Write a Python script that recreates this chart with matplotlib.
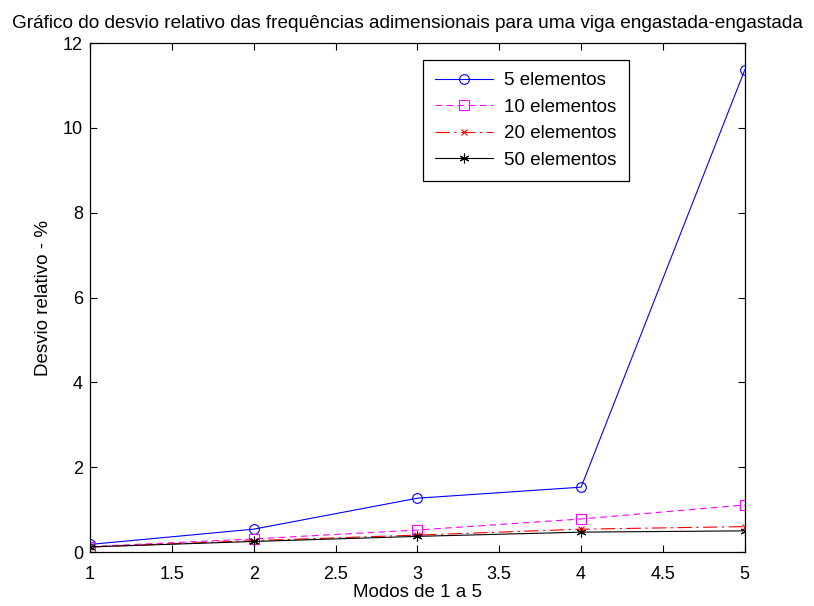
import matplotlib
matplotlib.use('Agg')
import matplotlib.pyplot as plt

plt.rcParams['font.family'] = ['Liberation Sans', 'DejaVu Sans']

modos = [1, 2, 3, 4, 5]
desvio_5 = [0.18, 0.54, 1.27, 1.53, 11.37]
desvio_10 = [0.13, 0.31, 0.52, 0.78, 1.11]
desvio_20 = [0.12, 0.27, 0.40, 0.54, 0.60]
desvio_50 = [0.12, 0.25, 0.37, 0.47, 0.50]

fig = plt.figure(figsize=(8.14, 6.06), dpi=100)
ax = fig.add_axes([0.1106, 0.089, 0.8044, 0.840])

lw = 0.8
ax.plot(modos, desvio_5, '-o', color='blue', lw=lw, ms=7, mfc='none', mew=lw, label='5 elementos')
ax.plot(modos, desvio_10, marker='s', ls=(0, (6, 4)), color='magenta', lw=lw, ms=7.5, mfc='none', mew=lw,
        label='10 elementos')
ax.plot(modos, desvio_20, marker='x', ls=(0, (13, 4, 2, 4)), color='red', lw=lw, ms=4.5, mew=lw,
        label='20 elementos')
ax.plot(modos, desvio_50, marker=(6, 2, 0), ls='-', color='black', lw=lw, ms=7, mew=lw, label='50 elementos')

ax.set_xlim(1, 5)
ax.set_ylim(0, 12)
ax.set_xticks([1, 1.5, 2, 2.5, 3, 3.5, 4, 4.5, 5])
ax.set_xticklabels(['1', '1.5', '2', '2.5', '3', '3.5', '4', '4.5', '5'])
ax.set_yticks([0, 2, 4, 6, 8, 10, 12])
ax.tick_params(direction='in', top=True, right=True, labelsize=13, length=5)
ax.tick_params(axis='x', pad=10)
ax.tick_params(axis='y', pad=5)
for s in ax.spines.values():
    s.set_linewidth(0.9)

ax.set_xlabel('Modos de 1 a 5', fontsize=13.5, labelpad=1)
ax.set_ylabel('Desvio relativo - %', fontsize=13.5, labelpad=8)
ax.set_title('Gráfico do desvio relativo das frequências adimensionais para uma viga engastada-engastada',
             fontsize=13.7, pad=11, x=0.4855)

leg = ax.legend(loc='upper left', bbox_to_anchor=(0.508, 0.967), borderaxespad=0, fontsize=13.5,
                fancybox=False, edgecolor='black', framealpha=1, borderpad=0.65, handlelength=3.1,
                handletextpad=0.6, labelspacing=0.5, numpoints=1)
leg.get_frame().set_linewidth(0.9)

fig.savefig('out.png', dpi=100)
